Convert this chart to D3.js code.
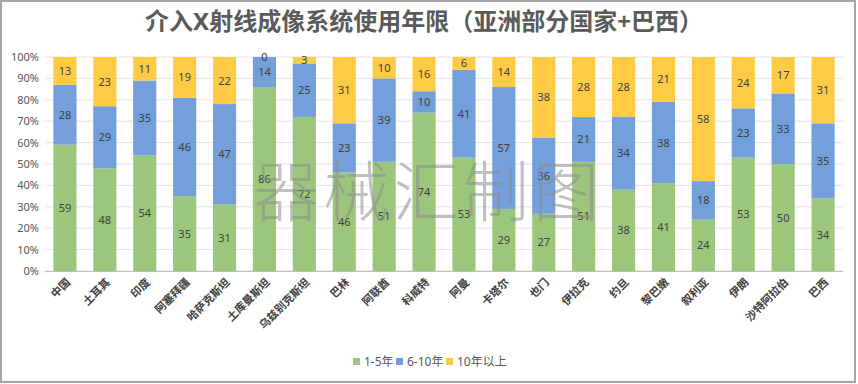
<!doctype html>
<html>
<head>
<meta charset="utf-8">
<script src="https://d3js.org/d3.v7.min.js"></script>
<style>
  body { margin: 0; background: #fff; }
  text { font-family: "Noto Sans", "Noto Sans CJK SC", sans-serif; }
</style>
</head>
<body>
<svg width="858" height="384"></svg>
<script>
// data
var countries = ["中国", "土耳其", "印度", "阿塞拜疆", "哈萨克斯坦", "土库曼斯坦", "乌兹别克斯坦", "巴林", "阿联酋", "科威特",
                 "阿曼", "卡塔尔", "也门", "伊拉克", "约旦", "黎巴嫩", "叙利亚", "伊朗", "沙特阿拉伯", "巴西"];
var years1to5  = [59, 48, 54, 35, 31, 86, 72, 46, 51, 74, 53, 29, 27, 51, 38, 41, 24, 53, 50, 34];
var years6to10 = [28, 29, 35, 46, 47, 14, 25, 23, 39, 10, 41, 57, 36, 21, 34, 38, 18, 23, 33, 35];
var years10up  = [13, 23, 11, 19, 22, 0, 3, 31, 10, 16, 6, 14, 38, 28, 28, 21, 58, 24, 17, 31];
var seriesNames = ["1-5年", "6-10年", "10年以上"];
var colors = ["#9cc67c", "#739fda", "#ffcb45"];
var yTicks = [0, 10, 20, 30, 40, 50, 60, 70, 80, 90, 100];

var svg = d3.select("svg");

// outer frame
svg.append("rect")
   .attr("x", 1).attr("y", 1)
   .attr("width", 854).attr("height", 381)
   .attr("fill", "#fff")
   .attr("stroke", "#a6a6a6")
   .attr("stroke-width", 2);

svg.append("text")
   .attr("x", 424).attr("y", 30)
   .attr("text-anchor", "middle")
   .attr("font-family", "Noto Sans CJK SC")
   .attr("font-size", "24px")
   .attr("font-weight", "bold")
   .attr("fill", "#5a5a5a")
   .text("介入X射线成像系统使用年限（亚洲部分国家+巴西）");

var rows = countries.map(function(c, i) {
    return { name: c, a: years1to5[i], b: years6to10[i], c: years10up[i] };
});

var xScale = d3.scaleBand().domain(countries).range([45, 843]).paddingInner(0.42).paddingOuter(0.21),
    yScale = d3.scaleLinear().domain([0, 100]).range([271, 57]);

// grid
svg.append("g").selectAll("line")
   .data(yTicks)
   .enter().append("line")
   .attr("x1", 45).attr("x2", 843)
   .attr("y1", function(d) { return yScale(d); })
   .attr("y2", function(d) { return yScale(d); })
   .attr("stroke", "#e3e3e3");

// y axis labels
var yAxis = svg.append("g")
   .attr("transform", "translate(45,0)")
   .call(d3.axisLeft(yScale).tickValues(yTicks).tickSize(0).tickPadding(6)
           .tickFormat(function(d) { return d + "%"; }));
yAxis.select(".domain").remove();
yAxis.selectAll("text")
   .attr("font-family", "Noto Sans")
   .attr("font-size", "11px")
   .attr("fill", "#595959");

// 100% stacked: each bar is scaled to its own total
var stack = d3.stack().keys(["a", "b", "c"]).offset(d3.stackOffsetExpand);
var layers = stack(rows);

var layer = svg.selectAll(".layer")
   .data(layers)
   .enter().append("g")
   .attr("class", "layer")
   .attr("fill", function(d, i) { return colors[i]; });

layer.selectAll("rect")
   .data(function(d) { return d; })
   .enter().append("rect")
   .attr("x", function(d) { return xScale(d.data.name); })
   .attr("y", function(d) { return yScale(d[1] * 100); })
   .attr("width", xScale.bandwidth())
   .attr("height", function(d) { return yScale(d[0] * 100) - yScale(d[1] * 100); });

layer.each(function(l) {
    d3.select(this).selectAll("text")
      .data(l)
      .enter().append("text")
      .attr("x", function(d) { return xScale(d.data.name) + xScale.bandwidth() / 2; })
      .attr("y", function(d) { return yScale((d[0] + d[1]) * 50) + 4; })
      .attr("text-anchor", "middle")
      .attr("font-family", "Noto Sans")
      .attr("font-size", "11px")
      .attr("fill", "#404040")
      .text(function(d) { return d.data[l.key]; });
});

// x axis
var xAxis = svg.append("g")
   .attr("transform", "translate(0,271)")
   .call(d3.axisBottom(xScale).tickSize(0).tickPadding(0));
xAxis.select(".domain").attr("stroke", "#bfbfbf").attr("d", "M45,0.5H843");
xAxis.selectAll("text")
   .attr("font-family", "Noto Sans CJK SC")
   .attr("font-size", "11px")
   .attr("font-weight", "bold")
   .attr("fill", "#404040")
   .attr("text-anchor", "end")
   .attr("dy", null)
   .attr("transform", "translate(6,12) rotate(-45)");

// watermark
svg.append("text")
   .attr("x", 428).attr("y", 216)
   .attr("text-anchor", "middle")
   .attr("font-family", "Noto Sans CJK SC")
   .attr("font-size", "66px")
   .attr("font-weight", "300")
   .attr("letter-spacing", "4px")
   .attr("fill", "#8c8c8c")
   .attr("fill-opacity", 0.55)
   .text("器械汇制图");

// legend
var legendX = [353, 396, 446];
var legend = svg.selectAll(".legend")
   .data(seriesNames)
   .enter().append("g")
   .attr("class", "legend")
   .attr("transform", function(d, i) { return "translate(" + legendX[i] + ",358)"; });
legend.append("rect")
   .attr("width", 7).attr("height", 7)
   .attr("fill", function(d, i) { return colors[i]; });
legend.append("text")
   .attr("x", 11).attr("y", 8)
   .attr("font-family", "Noto Sans CJK SC")
   .attr("font-size", "12px")
   .attr("fill", "#595959")
   .text(function(d) { return d; });
</script>
</body>
</html>
